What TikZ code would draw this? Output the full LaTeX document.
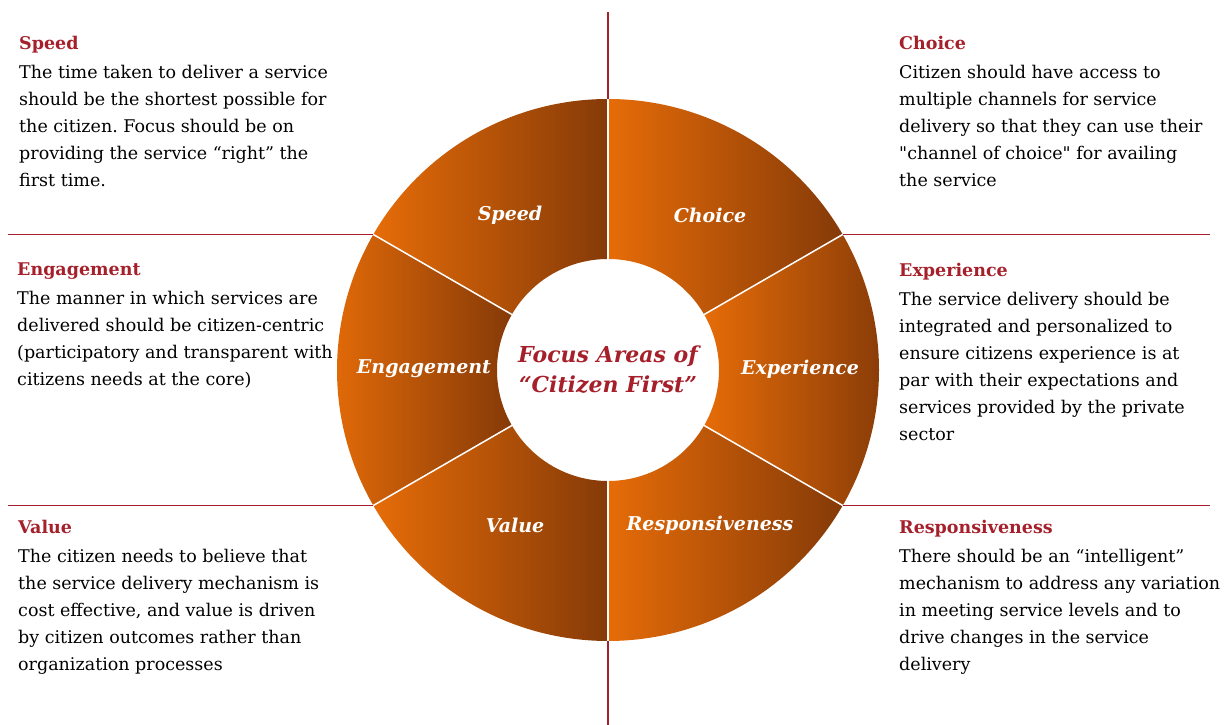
\documentclass[tikz,border=0pt]{standalone}
\usepackage{fontspec}
\setmainfont{DejaVu Serif}
\usepackage{tikz}
\definecolor{headred}{RGB}{165,32,42}
\definecolor{ringlight}{RGB}{230,108,8}
\definecolor{ringdark}{RGB}{133,58,8}
\frenchspacing
\tikzset{
    panel/.style={anchor=north west, inner sep=0pt, align=left, font=\fontsize{17.5}{27}\selectfont},
    seglabel/.style={text=white, font=\fontsize{19}{24}\selectfont\bfseries\itshape},
    segment/.style={left color=ringlight, right color=ringdark},
    divline/.style={draw=headred, line width=1.5pt},
}

\begin{document}
\begin{tikzpicture}[x=1pt,y=1pt]
                \useasboundingbox (0,0) rectangle (1231,725);
                \begin{scope}[shift={(608,355)}]
                    \shade[segment] (90:271) arc[start angle=90, end angle=150, radius=271pt] -- (150:111) arc[start angle=150, end angle=90, radius=111pt] -- cycle;
                    \shade[segment] (30:271) arc[start angle=30, end angle=90, radius=271pt] -- (90:111) arc[start angle=90, end angle=30, radius=111pt] -- cycle;
                    \shade[segment] (150:271) arc[start angle=150, end angle=210, radius=271pt] -- (210:111) arc[start angle=210, end angle=150, radius=111pt] -- cycle;
                    \shade[segment] (-30:271) arc[start angle=-30, end angle=30, radius=271pt] -- (30:111) arc[start angle=30, end angle=-30, radius=111pt] -- cycle;
                    \shade[segment] (210:271) arc[start angle=210, end angle=270, radius=271pt] -- (270:111) arc[start angle=270, end angle=210, radius=111pt] -- cycle;
                    \shade[segment] (270:271) arc[start angle=270, end angle=330, radius=271pt] -- (330:111) arc[start angle=330, end angle=270, radius=111pt] -- cycle;
                    \draw[white, line width=1.5pt] (90:110) -- (90:272);
                    \draw[white, line width=1.5pt] (30:110) -- (30:272);
                    \draw[white, line width=1.5pt] (150:110) -- (150:272);
                    \draw[white, line width=1.5pt] (210:110) -- (210:272);
                    \draw[white, line width=1.5pt] (270:110) -- (270:272);
                    \draw[white, line width=1.5pt] (330:110) -- (330:272);
                    \coordinate (ringN) at (90:271);
                    \coordinate (ringS) at (270:271);
                    \coordinate (ringNW) at (150:271);
                    \coordinate (ringNE) at (30:271);
                    \coordinate (ringSW) at (210:271);
                    \coordinate (ringSE) at (330:271);
                \end{scope}
                \node[text=headred, align=center, font=\fontsize{22}{30}\selectfont\bfseries\itshape] (hub) at (608,355) {Focus Areas of\\“Citizen First”};
                \node[seglabel] (speedlbl) at (510,510) {Speed};
                \node[seglabel] (choicelbl) at (710,510) {Choice};
                \node[seglabel] (engagelbl) at (424,356) {Engagement};
                \node[seglabel] (experlbl) at (800,356) {Experience};
                \node[seglabel] (valuelbl) at (515,200) {Value};
                \node[seglabel] (resplbl) at (710,200) {Responsiveness};
                \coordinate (topend) at (608,713);
                \coordinate (botend) at (608,0);
                \coordinate (leftup) at (8,490.5);
                \coordinate (leftlow) at (8,219.5);
                \coordinate (rightup) at (1210,490.5);
                \coordinate (rightlow) at (1210,219.5);
                \draw[divline] (topend) -- (ringN);
                \draw[divline] (ringS) -- (botend);
                \draw[divline] (leftup) -- (ringNW);
                \draw[divline] (leftlow) -- (ringSW);
                \draw[divline] (ringNE) -- (rightup);
                \draw[divline] (ringSE) -- (rightlow);
                \node[panel] (speedtxt) at (19,689) {\textcolor{headred}{\bfseries Speed}\\[2pt]
                    The time taken to deliver a service\\
                    should be the shortest possible for\\
                    the citizen. Focus should be on\\
                    providing the service “right” the\\
                    first time.};
                \node[panel] (engagetxt) at (17,462) {\textcolor{headred}{\bfseries Engagement}\\[2pt]
                    The manner in which services are\\
                    delivered should be citizen-centric\\
                    (participatory and transparent with\\
                    citizens needs at the core)};
                \node[panel] (valuetxt) at (18,205) {\textcolor{headred}{\bfseries Value}\\[2pt]
                    The citizen needs to believe that\\
                    the service delivery mechanism is\\
                    cost effective, and value is driven\\
                    by citizen outcomes rather than\\
                    organization processes};
                \node[panel] (choicetxt) at (899,689) {\textcolor{headred}{\bfseries Choice}\\[2pt]
                    Citizen should have access to\\
                    multiple channels for service\\
                    delivery so that they can use their\\
                    \textquotedbl channel of choice\textquotedbl{} for availing\\
                    the service};
                \node[panel] (expertxt) at (899,462) {\textcolor{headred}{\bfseries Experience}\\[2pt]
                    The service delivery should be\\
                    integrated and personalized to\\
                    ensure citizens experience is at\\
                    par with their expectations and\\
                    services provided by the private\\
                    sector};
                \node[panel] (resptxt) at (899,205) {\textcolor{headred}{\bfseries Responsiveness}\\[2pt]
                    There should be an “intelligent”\\
                    mechanism to address any variation\\
                    in meeting service levels and to\\
                    drive changes in the service\\
                    delivery};
            \end{tikzpicture}
\end{document}
